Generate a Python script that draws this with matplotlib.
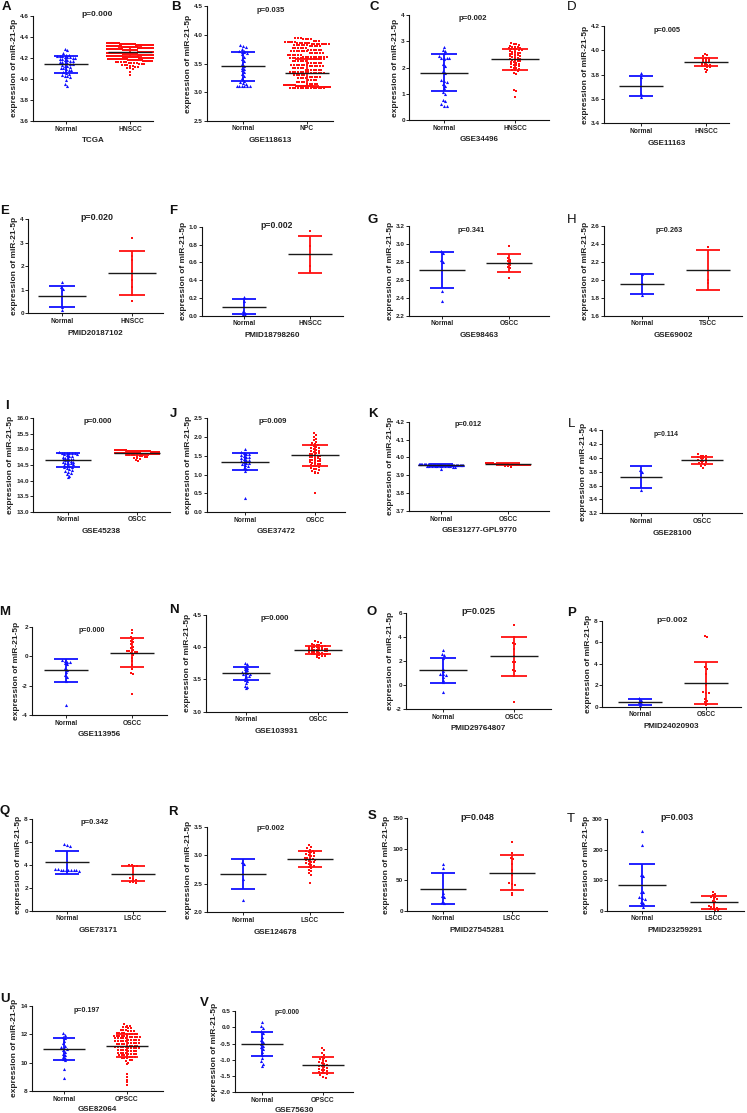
import numpy as np
import matplotlib
matplotlib.use('Agg')
import matplotlib.pyplot as plt

plt.rcParams['font.family'] = ['Liberation Sans', 'DejaVu Sans']
plt.rcParams['font.weight'] = 'bold'
plt.rcParams['axes.unicode_minus'] = False

# ---------------- data ----------------
A_groups = ['Normal', 'HNSCC']; A_set = 'TCGA'; A_p = 'p=0.000'
A_normal = [4.28, 4.27, 4.25, 4.23, 4.23, 4.22, 4.22, 4.22, 4.21, 4.21, 4.21, 4.20, 4.20, 4.19, 4.19,
            4.18, 4.18, 4.17, 4.17, 4.16, 4.16, 4.15, 4.15, 4.14, 4.14, 4.13, 4.12, 4.12, 4.11, 4.10,
            4.10, 4.09, 4.08, 4.08, 4.07, 4.06, 4.05, 4.04, 4.03, 4.03, 4.02, 3.99, 3.95, 3.93]
A_tumor_vals = [4.34, 4.33, 4.32, 4.31, 4.30, 4.29, 4.28, 4.27, 4.26, 4.25, 4.24, 4.23, 4.22, 4.21,
                4.20, 4.19, 4.18, 4.17, 4.16, 4.15, 4.14, 4.13, 4.12, 4.11, 4.10, 4.09, 4.07, 4.04]
A_tumor_counts = [14, 18, 20, 20, 22, 22, 22, 22, 22, 22, 22, 22, 20, 20,
                  18, 16, 12, 8, 5, 4, 3, 3, 2, 2, 2, 1, 1, 1]
A_mean = [4.14, 4.26]; A_sd = [0.08, 0.04]
A_yticks = [3.6, 3.8, 4.0, 4.2, 4.4, 4.6]

B_groups = ['Normal', 'NPC']; B_set = 'GSE118613'; B_p = 'p=0.035'
B_normal = [3.83, 3.81, 3.79, 3.76, 3.72, 3.71, 3.70, 3.70, 3.69, 3.66, 3.62, 3.58, 3.55, 3.50, 3.46,
            3.43, 3.40, 3.38, 3.35, 3.32, 3.28, 3.24, 3.20, 3.18, 3.16, 3.14, 3.10, 3.10, 3.10, 3.10,
            3.10, 3.10]
B_tumor_vals = [3.94, 3.92, 3.90, 3.88, 3.86, 3.84, 3.82, 3.80, 3.77, 3.74, 3.71, 3.68, 3.65, 3.62,
                3.60, 3.57, 3.54, 3.51, 3.48, 3.45, 3.42, 3.39, 3.36, 3.33, 3.30, 3.27, 3.24, 3.21,
                3.18, 3.15, 3.13, 3.11, 3.09, 3.07]
B_tumor_counts = [3, 4, 3, 5, 6, 8, 6, 5, 6, 6, 7, 6, 6, 10,
                  8, 6, 6, 6, 7, 6, 5, 7, 8, 6, 5, 6, 4, 4,
                  4, 5, 14, 20, 22, 14]
B_mean = [3.45, 3.34]; B_sd = [0.25, 0.24]
B_yticks = [2.5, 3.0, 3.5, 4.0, 4.5]

C_groups = ['Normal', 'HNSCC']; C_set = 'GSE34496'; C_p = 'p=0.002'
C_normal = [2.80, 2.66, 2.62, 2.55, 2.42, 2.38, 2.36, 2.35, 2.35, 2.32, 2.12, 2.05, 1.85, 1.78,
            1.52, 1.48, 1.45, 1.36, 1.30, 1.22, 1.05, 0.98, 0.78, 0.72, 0.60, 0.55, 0.52]
C_tumor = [2.92, 2.90, 2.88, 2.85, 2.83, 2.80, 2.78, 2.78, 2.75, 2.73, 2.72, 2.70, 2.70, 2.68, 2.65,
           2.62, 2.60, 2.58, 2.56, 2.55, 2.52, 2.50, 2.48, 2.46, 2.45, 2.42, 2.40, 2.38, 2.36, 2.34,
           2.32, 2.30, 2.28, 2.26, 2.24, 2.22, 2.20, 2.18, 2.15, 2.12, 2.10, 2.08, 2.05, 2.02, 2.00,
           1.97, 1.95, 1.92, 1.90, 1.85, 1.80, 1.75, 1.15, 1.10, 0.88]
C_mean = [1.80, 2.31]; C_sd = [0.70, 0.40]
C_yticks = [0, 1, 2, 3, 4]

D_groups = ['Normal', 'HNSCC']; D_set = 'GSE11163'; D_p = 'p=0.005'
D_normal = [3.81, 3.78, 3.64, 3.62]
D_tumor = [3.97, 3.96, 3.95, 3.94, 3.94, 3.93, 3.92, 3.92, 3.91, 3.90, 3.90, 3.89, 3.89, 3.88,
           3.88, 3.87, 3.87, 3.86, 3.86, 3.85, 3.84, 3.82]
D_mean = [3.71, 3.904]; D_sd = [0.083, 0.036]
D_yticks = [3.4, 3.6, 3.8, 4.0, 4.2]

E_groups = ['Normal', 'HNSCC']; E_set = 'PMID20187102'; E_p = 'p=0.020'
E_normal = [1.33, 1.12, 1.05, 0.28, 0.16]
E_tumor = [3.22, 2.45, 2.25, 1.80, 1.40, 1.10, 0.78, 0.52]
E_mean = [0.715, 1.715]; E_sd = [0.445, 0.92]
E_yticks = [0, 1, 2, 3, 4]

F_groups = ['Normal', 'HNSCC']; F_set = 'PMID18798260'; F_p = 'p=0.002'
F_normal = [0.21, 0.17, 0.05, 0.03, 0.02, 0.01]
F_tumor = [0.95, 0.78, 0.56, 0.50]
F_mean = [0.103, 0.69]; F_sd = [0.087, 0.21]
F_yticks = [0.0, 0.2, 0.4, 0.6, 0.8, 1.0]

G_groups = ['Normal', 'OSCC']; G_set = 'GSE98463'; G_p = 'p=0.341'
G_normal = [2.92, 2.90, 2.82, 2.80, 2.47, 2.36]
G_tumor = [2.98, 2.84, 2.82, 2.81, 2.80, 2.78, 2.76, 2.74, 2.73, 2.62]
G_mean = [2.706, 2.784]; G_sd = [0.20, 0.10]
G_yticks = [2.2, 2.4, 2.6, 2.8, 3.0, 3.2]

H_groups = ['Normal', 'TSCC']; H_set = 'GSE69002'; H_p = 'p=0.263'
H_normal = [2.07, 1.96, 1.83]
H_tumor = [2.37, 2.00, 1.97]
H_mean = [1.95, 2.11]; H_sd = [0.112, 0.223]
H_yticks = [1.6, 1.8, 2.0, 2.2, 2.4, 2.6]

I_groups = ['Normal', 'OSCC']; I_set = 'GSE45238'; I_p = 'p=0.000'
I_normal = [14.93, 14.90, 14.89, 14.88, 14.88, 14.87, 14.87, 14.86, 14.85, 14.83, 14.80, 14.78,
            14.76, 14.74, 14.72, 14.70, 14.70, 14.68, 14.66, 14.65, 14.63, 14.61, 14.60, 14.58,
            14.56, 14.55, 14.53, 14.50, 14.48, 14.46, 14.44, 14.42, 14.40, 14.38, 14.35, 14.32,
            14.28, 14.25, 14.20, 14.16, 14.12]
I_tumor_vals = [14.98, 14.96, 14.94, 14.92, 14.90, 14.88, 14.86, 14.84, 14.82, 14.80, 14.77, 14.74,
                14.70, 14.66, 14.62]
I_tumor_counts = [12, 12, 10, 9, 8, 7, 6, 5, 4, 3, 2, 2, 1, 1, 1]
I_mean = [14.65, 14.89]; I_sd = [0.225, 0.07]
I_yticks = [13.0, 13.5, 14.0, 14.5, 15.0, 15.5, 16.0]

J_groups = ['Normal', 'OSCC']; J_set = 'GSE37472'; J_p = 'p=0.009'
J_normal = [1.67, 1.60, 1.58, 1.56, 1.54, 1.52, 1.50, 1.48, 1.46, 1.44, 1.42, 1.40, 1.38, 1.36,
            1.34, 1.32, 1.30, 1.28, 1.25, 1.22, 1.18, 1.14, 1.10, 0.38]
J_tumor = [2.12, 2.06, 2.00, 1.96, 1.92, 1.88, 1.85, 1.82, 1.80, 1.78, 1.76, 1.74, 1.72, 1.70,
           1.68, 1.66, 1.64, 1.62, 1.60, 1.58, 1.57, 1.55, 1.54, 1.52, 1.50, 1.49, 1.48, 1.46,
           1.45, 1.44, 1.42, 1.40, 1.39, 1.38, 1.36, 1.35, 1.33, 1.32, 1.30, 1.28, 1.27, 1.25,
           1.24, 1.22, 1.20, 1.18, 1.16, 1.14, 1.12, 1.10, 1.08, 1.05, 1.03, 0.52]
J_mean = [1.345, 1.51]; J_sd = [0.235, 0.27]
J_yticks = [0.0, 0.5, 1.0, 1.5, 2.0, 2.5]

K_groups = ['Normal', 'OSCC']; K_set = 'GSE31277-GPL9770'; K_p = 'p=0.012'
K_normal_vals = [3.965, 3.960, 3.955, 3.950, 3.945, 3.935]
K_normal_counts = [8, 14, 14, 10, 2, 1]
K_tumor_vals = [3.968, 3.964, 3.960, 3.956, 3.950, 3.945]
K_tumor_counts = [8, 14, 14, 8, 2, 1]
K_mean = [3.957, 3.962]; K_sd = [0.005, 0.004]
K_yticks = [3.7, 3.8, 3.9, 4.0, 4.1, 4.2]

L_groups = ['Normal', 'OSCC']; L_set = 'GSE28100'; L_p = 'p=0.114'
L_normal = [3.82, 3.79, 3.53]
L_tumor = [4.05, 4.03, 4.02, 4.02, 4.01, 4.00, 3.99, 3.98, 3.97, 3.96, 3.95, 3.94, 3.93, 3.92,
           3.90, 3.88, 3.85]
L_mean = [3.718, 3.962]; L_sd = [0.16, 0.055]
L_yticks = [3.2, 3.4, 3.6, 3.8, 4.0, 4.2, 4.4]

M_groups = ['Normal', 'OSCC']; M_set = 'GSE113956'; M_p = 'p=0.000'
M_normal = [-0.28, -0.33, -0.38, -0.42, -0.50, -0.55, -0.80, -0.95, -1.05, -1.30, -1.42, -1.70, -3.30]
M_tumor = [1.78, 1.55, 1.30, 1.15, 1.05, 0.95, 0.80, 0.65, 0.55, 0.45, 0.38, 0.35, 0.32, 0.28,
           0.25, 0.20, 0.05, -0.15, -0.35, -0.60, -0.90, -1.15, -1.22, -2.60]
M_mean = [-0.975, 0.245]; M_sd = [0.765, 0.965]
M_yticks = [-4, -2, 0, 2]

N_groups = ['Normal', 'OSCC']; N_set = 'GSE103931'; N_p = 'p=0.000'
N_normal = [3.76, 3.74, 3.70, 3.68, 3.66, 3.64, 3.62, 3.61, 3.60, 3.59, 3.58, 3.56, 3.55, 3.53,
            3.51, 3.49, 3.47, 3.44, 3.40, 3.38, 3.36]
N_tumor = [4.09, 4.08, 4.06, 4.05, 4.04, 4.03, 4.03, 4.02, 4.02, 4.01, 4.01, 4.00, 4.00, 3.99,
           3.99, 3.98, 3.98, 3.97, 3.97, 3.96, 3.96, 3.95, 3.95, 3.94, 3.94, 3.93, 3.93, 3.92,
           3.92, 3.91, 3.91, 3.90, 3.90, 3.89, 3.89, 3.88, 3.88, 3.87, 3.86, 3.85, 3.84]
N_mean = [3.595, 3.957]; N_sd = [0.105, 0.06]
N_yticks = [3.0, 3.5, 4.0, 4.5]

O_groups = ['Normal', 'OSCC']; O_set = 'PMID29764807'; O_p = 'p=0.025'
O_normal = [2.95, 2.62, 2.55, 2.30, 1.35, 1.15, 0.95, 0.90, 0.85, 0.70, 0.45, 0.25, -0.55]
O_tumor = [5.02, 4.00, 3.55, 3.45, 3.05, 2.40, 1.95, 1.90, 1.25, 1.15, 0.80, -1.38]
O_mean = [1.22, 2.40]; O_sd = [1.02, 1.63]
O_yticks = [-2, 0, 2, 4, 6]

P_groups = ['Normal', 'OSCC']; P_set = 'PMID24020903'; P_p = 'p=0.002'
P_normal = [0.78, 0.62, 0.45, 0.30, 0.18]
P_tumor = [6.55, 6.45, 3.65, 3.50, 3.00, 2.00, 1.40, 1.30, 1.25, 0.75, 0.55, 0.40, 0.25, 0.12]
P_mean = [0.46, 2.20]; P_sd = [0.28, 1.97]
P_yticks = [0, 2, 4, 6, 8]

Q_groups = ['Normal', 'LSCC']; Q_set = 'GSE73171'; Q_p = 'p=0.342'
Q_normal = [5.82, 5.72, 5.65, 3.65, 3.62, 3.60, 3.60, 3.58, 3.58, 3.57, 3.55, 3.52, 3.50]
Q_tumor = [3.98, 3.96, 3.92, 3.90, 2.82, 2.76, 2.72, 2.55, 2.48, 2.42]
Q_mean = [4.22, 3.24]; Q_sd = [1.02, 0.68]
Q_yticks = [0, 2, 4, 6, 8]

R_groups = ['Normal', 'LSCC']; R_set = 'GSE124678'; R_p = 'p=0.002'
R_normal = [2.88, 2.85, 2.58, 2.22]
R_tumor = [3.18, 3.15, 3.12, 3.10, 3.08, 3.07, 3.06, 3.05, 3.04, 3.02, 3.00, 2.99, 2.98, 2.96,
           2.95, 2.94, 2.93, 2.92, 2.91, 2.90, 2.89, 2.88, 2.86, 2.85, 2.83, 2.82, 2.80, 2.78,
           2.75, 2.72, 2.68, 2.65, 2.52]
R_mean = [2.67, 2.93]; R_sd = [0.27, 0.14]
R_yticks = [2.0, 2.5, 3.0, 3.5]

S_groups = ['Normal', 'LSCC']; S_set = 'PMID27545281'; S_p = 'p=0.048'
S_normal = [76, 70, 28, 24, 22, 14, 12]
S_tumor = [112, 93, 86, 84, 76, 66, 58, 45, 43, 42, 29, 25]
S_mean = [35.8, 61.7]; S_sd = [25.4, 28.6]
S_yticks = [0, 50, 100, 150]

T_groups = ['Normal', 'LSCC']; T_set = 'PMID23259291'; T_p = 'p=0.003'
T_normal = [262, 215, 118, 114, 62, 60, 45, 42, 40, 30, 24, 18, 12]
T_tumor = [62, 56, 52, 46, 44, 42, 40, 32, 28, 22, 14, 12, 10, 8, 7, 5, 4, 3, 2]
T_mean = [83.7, 27.3]; T_sd = [68.3, 20.7]
T_yticks = [0, 100, 200, 300]

U_groups = ['Normal', 'OPSCC']; U_set = 'GSE82064'; U_p = 'p=0.197'
U_normal = [12.08, 11.95, 11.80, 11.70, 11.55, 11.35, 11.20, 11.10, 11.02, 10.95, 10.85, 10.75,
            10.62, 10.50, 10.42, 10.32, 10.25, 10.18, 9.52, 8.92]
U_tumor_vals = [12.7, 12.6, 12.5, 12.4, 12.3, 12.2, 12.1, 12.0, 11.9, 11.8, 11.7, 11.6, 11.5,
                11.4, 11.3, 11.2, 11.1, 11.0, 10.9, 10.8, 10.7, 10.6, 10.5, 10.4, 10.3, 10.2,
                10.1, 10.0, 9.9, 9.2, 9.0, 8.8, 8.6, 8.4]
U_tumor_counts = [1, 2, 2, 2, 3, 3, 4, 5, 6, 5, 5, 5, 5,
                  5, 4, 5, 5, 5, 4, 4, 4, 4, 4, 3, 3, 2,
                  1, 1, 1, 1, 1, 1, 1, 1]
U_mean = [10.95, 11.20]; U_sd = [0.77, 0.78]
U_yticks = [8, 10, 12, 14]

V_groups = ['Normal', 'OPSCC']; V_set = 'GSE75630'; V_p = 'p=0.000'
V_normal = [0.16, 0.05, -0.02, -0.12, -0.18, -0.30, -0.38, -0.45, -0.52, -0.58, -0.62, -0.68,
            -0.75, -0.85, -0.95, -1.05, -1.12, -1.20]
V_tumor = [-0.65, -0.70, -0.78, -0.85, -0.90, -0.95, -0.98, -1.02, -1.05, -1.08, -1.10, -1.12,
           -1.15, -1.18, -1.20, -1.22, -1.25, -1.28, -1.30, -1.32, -1.35, -1.38, -1.40, -1.42,
           -1.45, -1.48, -1.52, -1.55]
V_mean = [-0.52, -1.16]; V_sd = [0.365, 0.235]
V_yticks = [-2.0, -1.5, -1.0, -0.5, 0.0, 0.5]

A_tumor = np.repeat(A_tumor_vals, A_tumor_counts)
B_tumor = np.repeat(B_tumor_vals, B_tumor_counts)
I_tumor = np.repeat(I_tumor_vals, I_tumor_counts)
K_normal = np.repeat(K_normal_vals, K_normal_counts)
K_tumor = np.repeat(K_tumor_vals, K_tumor_counts)
U_tumor = np.repeat(U_tumor_vals, U_tumor_counts)

# ---------------- layout (pixels) ----------------
PANELS = [
    ('A', (33, 153, 15.7, 121), (66, 130), (6, 7), (97, 15), 6.0, '{:.1f}', A_groups, A_set, A_p, A_normal, A_tumor, A_mean, A_sd, A_yticks),
    ('B', (207, 333, 6.3, 120.7), (243, 307), (176, 7), (271, 11), 5.5, '{:.1f}', B_groups, B_set, B_p, B_normal, B_tumor, B_mean, B_sd, B_yticks),
    ('C', (409, 549, 15, 120), (444, 515), (374, 7), (473, 19), 5.6, '{:.0f}', C_groups, C_set, C_p, C_normal, C_tumor, C_mean, C_sd, C_yticks),
    ('D', (604, 729, 26, 123.3), (641, 706), (572, 7), (667, 30), 5.3, '{:.1f}', D_groups, D_set, D_p, D_normal, D_tumor, D_mean, D_sd, D_yticks),
    ('E', (28, 163, 219.3, 313.3), (62, 132), (5, 211), (97, 218), 6.4, '{:.0f}', E_groups, E_set, E_p, E_normal, E_tumor, E_mean, E_sd, E_yticks),
    ('F', (202, 343, 226.7, 315.7), (244, 310), (173, 211), (277, 226), 6.2, '{:.1f}', F_groups, F_set, F_p, F_normal, F_tumor, F_mean, F_sd, F_yticks),
    ('G', (409, 549, 226, 315.7), (442, 509), (373, 220), (471, 231), 5.3, '{:.1f}', G_groups, G_set, G_p, G_normal, G_tumor, G_mean, G_sd, G_yticks),
    ('H', (604, 742, 226, 315.7), (642, 708), (572, 220), (669, 231), 5.3, '{:.1f}', H_groups, H_set, H_p, H_normal, H_tumor, H_mean, H_sd, H_yticks),
    ('I', (33, 170, 418.3, 511.7), (68, 137), (7, 406), (98, 422), 5.6, '{:.1f}', I_groups, I_set, I_p, I_normal, I_tumor, I_mean, I_sd, I_yticks),
    ('J', (207, 345, 418.3, 512), (245, 315), (173, 414), (273, 422), 5.6, '{:.1f}', J_groups, J_set, J_p, J_normal, J_tumor, J_mean, J_sd, J_yticks),
    ('K', (409, 549, 421.7, 511), (441, 508), (373, 414), (468, 425), 5.3, '{:.1f}', K_groups, K_set, K_p, K_normal, K_tumor, K_mean, K_sd, K_yticks),
    ('L', (602, 742, 430, 513.3), (641, 702), (572, 424), (666, 434), 4.9, '{:.1f}', L_groups, L_set, L_p, L_normal, L_tumor, L_mean, L_sd, L_yticks),
    ('M', (32, 167, 626.7, 715), (66, 132), (5, 612), (92, 630), 5.1, '{:.0f}', M_groups, M_set, M_p, M_normal, M_tumor, M_mean, M_sd, M_yticks),
    ('N', (206, 347, 615, 711.7), (246, 318), (174, 610), (275, 618), 5.6, '{:.1f}', N_groups, N_set, N_p, N_normal, N_tumor, N_mean, N_sd, N_yticks),
    ('O', (406, 551, 613.3, 709), (443, 514), (372, 612), (478, 612), 6.6, '{:.0f}', O_groups, O_set, O_p, O_normal, O_tumor, O_mean, O_sd, O_yticks),
    ('P', (602, 741, 620.7, 706.7), (640, 706), (572, 613), (672, 620), 6.0, '{:.0f}', P_groups, P_set, P_p, P_normal, P_tumor, P_mean, P_sd, P_yticks),
    ('Q', (32, 165, 819.3, 910.7), (67, 133), (5, 811), (95, 823), 5.5, '{:.0f}', Q_groups, Q_set, Q_p, Q_normal, Q_tumor, Q_mean, Q_sd, Q_yticks),
    ('R', (207, 343, 826.7, 912.3), (243, 310), (173, 812), (271, 829), 5.5, '{:.1f}', R_groups, R_set, R_p, R_normal, R_tumor, R_mean, R_sd, R_yticks),
    ('S', (407, 547, 818.3, 910.7), (443, 512), (372, 816), (477, 817), 6.6, '{:.0f}', S_groups, S_set, S_p, S_normal, S_tumor, S_mean, S_sd, S_yticks),
    ('T', (607, 744, 819.3, 910.7), (642, 714), (571, 819), (677, 818), 6.4, '{:.0f}', T_groups, T_set, T_p, T_normal, T_tumor, T_mean, T_sd, T_yticks),
    ('U', (32, 163, 1005.7, 1091), (64, 127), (5, 999), (87, 1010), 5.1, '{:.0f}', U_groups, U_set, U_p, U_normal, U_tumor, U_mean, U_sd, U_yticks),
    ('V', (235, 353, 1011, 1092.3), (262, 323), (204, 1003), (287, 1013), 4.9, '{:.1f}', V_groups, V_set, V_p, V_normal, V_tumor, V_mean, V_sd, V_yticks),
]
LIGHT_LETTERS = {'D', 'H', 'L', 'T'}

W, H = 747, 1113
fig = plt.figure(figsize=(W / 100, H / 100), dpi=100)
fig.patch.set_facecolor('white')

BLUE = '#1010ff'
RED = '#ff1010'


def swarm_offsets(vals, ppu_y, d=2.3, step=2.6, wmax=23.0):
    vals = np.asarray(vals, float)
    order = np.argsort(-vals, kind='stable')
    ypx = vals[order] * ppu_y
    offs = np.zeros(len(vals))
    n = len(vals)
    i = 0
    while i < n:
        j = i
        while j + 1 < n and ypx[i] - ypx[j + 1] < d:
            j += 1
        k = j - i + 1
        s = min(step, 2 * wmax / k)
        for m in range(k):
            offs[order[i + m]] = (m - (k - 1) / 2) * s
        i = j + 1
    return offs


for (letter, box, cats, lpos, ppos, psize, fmt, groups, dset, ptxt,
     normal, tumor, means, sds, yticks) in PANELS:
    l, r, t, b = box
    nx, tx = cats
    ax = fig.add_axes([l / W, 1 - b / H, (r - l) / W, (b - t) / H])
    u = tx - nx
    ax.set_xlim(-(nx - l) / u, 1 + (r - tx) / u)
    y0, y1 = yticks[0], yticks[-1]
    ax.set_ylim(y0, y1)
    ppu_y = (b - t) / (y1 - y0)
    for gi, (vals, col, mk, ms) in enumerate([(normal, BLUE, '^', 5.0), (tumor, RED, 's', 4.2)]):
        offs = swarm_offsets(vals, ppu_y) / u
        ax.scatter(gi + offs, vals, s=ms, marker=mk, color=col, linewidths=0, zorder=2, clip_on=False)
        m, sd = means[gi], sds[gi]
        cw, mw = 0.18, 0.34
        ax.plot([gi, gi], [m - sd, m + sd], color=col, lw=1.3, zorder=3, solid_capstyle='butt')
        ax.plot([gi - cw, gi + cw], [m + sd, m + sd], color=col, lw=1.3, zorder=3, solid_capstyle='butt')
        ax.plot([gi - cw, gi + cw], [m - sd, m - sd], color=col, lw=1.3, zorder=3, solid_capstyle='butt')
        ax.plot([gi - mw, gi + mw], [m, m], color='#1a1a1a', lw=1.0, zorder=4, solid_capstyle='butt')
    for sp in ['top', 'right']:
        ax.spines[sp].set_visible(False)
    for sp in ['left', 'bottom']:
        ax.spines[sp].set_linewidth(0.8)
        ax.spines[sp].set_color('#111111')
    ax.set_yticks(yticks)
    ax.set_yticklabels([fmt.format(v) for v in yticks])
    ax.set_xticks([0, 1])
    ax.set_xticklabels(groups)
    ax.tick_params(axis='y', length=2.0, width=0.7, pad=1.0, labelsize=4.6, colors='#222222')
    ax.tick_params(axis='x', length=1.8, width=0.7, pad=1.5, labelsize=4.8, colors='#222222')
    ax.set_xlabel(dset, fontsize=5.8, fontweight='bold', labelpad=2.5 if b > 1080 else 3.5, color='#222222')
    ax.set_ylabel('expression of miR-21-5p', fontsize=6.0, fontweight='bold', labelpad=1.5, color='#222222')
    ax.set_facecolor('none')
    fig.text(lpos[0] / W, 1 - lpos[1] / H, letter, fontsize=9.5,
             fontweight='normal' if letter in LIGHT_LETTERS else 'bold',
             ha='center', va='center', color='#111111')
    fig.text(ppos[0] / W, 1 - ppos[1] / H, ptxt, fontsize=psize, fontweight='bold',
             ha='center', va='center', color='#222222')

fig.savefig('out.png', dpi=100, facecolor='white')
